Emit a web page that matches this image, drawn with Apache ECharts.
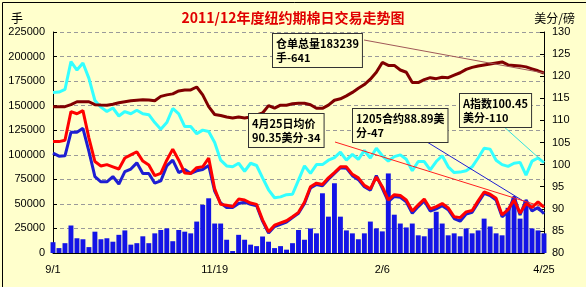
<!DOCTYPE html>
<html><head><meta charset="utf-8">
<script src="https://cdn.jsdelivr.net/npm/echarts@6/dist/echarts.min.js"></script>
<style>html,body{margin:0;padding:0;background:#fff}#c{width:586px;height:287px}</style>
</head><body><div id="c"></div>
<script>
// ---- data ----
const xTickLabels = ['9/1', '11/19', '2/6', '4/25'];
const xTickIndex = [0, 27, 55, 82];

// 仓单总量 (手) – left axis
const stock = [149000,149000,149000,151000,154000,154000,154000,151000,150700,150500,151500,153000,154000,155000,155500,156000,155800,
155000,159500,161000,162000,165000,166000,166000,169000,161000,149000,141000,140000,138500,137500,138500,137500,
138500,140500,142500,150000,147500,150500,150500,152000,152500,152500,151000,147300,147300,150500,155500,157000,
160000,163500,167700,171500,177000,184000,194000,191000,191000,186300,184000,173500,173500,176500,178500,177500,179000,
178500,181000,183500,187000,189000,190400,191500,192500,193500,194500,191500,191000,190500,189500,187500,185500,183239];

// A指数 (美分/磅) – right axis
const aIndex = [116.3,116.4,117,123.3,121.4,123,119.5,114.5,113,112,112.8,111,112,111.5,112.3,111.5,111.3,
109.5,108,109.5,112.7,111.5,108.6,108.6,107,107.8,107.5,105,101,99.7,99.5,100.3,98.5,
100.3,99.8,97,94.3,92.5,92.7,93.2,93.3,96.5,99.7,98,100,100,101,101.6,102.8,
101,102.3,101.2,103.2,101.5,103.7,102,100.8,101.8,102.2,101.2,98.6,100.7,100.7,98.8,100.7,102,
99.5,98.2,98.3,98.6,99.5,101.5,103.7,103.5,101,100,99.6,100.3,100.5,97.6,100.8,101.5,100.45];

// 均价 (美分/磅) – right axis
const avgPrice = [105.2,105.2,105.5,112,111.5,112.2,106,100.7,99.7,100,99.5,99,101.5,102.2,102.9,100.8,99.9,
97.5,98,101,103.5,101,98.1,98,99.3,99.5,101.5,94.5,91,90.8,90.5,92.2,92,
91.3,91,87.5,84.8,86.3,86.8,87.3,88.2,89.2,91.5,95,95.8,95.5,97,98.2,99.5,
99.5,97.8,97,95.3,94.5,97.2,95,92,93.2,93,92,89.5,90.9,92.2,90,90.5,91.2,
90.2,88.2,88,89.3,89.6,91.8,93.8,93.3,92.4,88.6,89.8,92,89,91.2,90.3,91.6,90.35];

// 1205合约 (美分/磅) – right axis
const c1205 = [102.6,101.9,102,107.3,107.3,108.2,103,97.3,96.1,96.1,97.3,95.6,98.4,99,100.4,98,98,
95.8,96.3,99.7,101,98.2,98.9,98,98.6,98.9,99.8,94,91.3,90.3,90.3,91.2,91.5,
91,90.7,87.2,84.5,86,86.5,87,88,89,91.2,94.7,95.5,95.2,96.7,98,99.3,
99.2,97.5,96.6,95,94.2,97.5,94.6,91.6,92.8,92.6,91.6,89,90.5,91.8,89.5,90,90.7,
89.8,87.8,87.2,88.8,89.2,91.4,93.5,93,92,88.2,89.3,92.8,88.6,92,89.5,90.3,88.89];

// 成交量 (手) – left axis bars
const volume = [11000,5000,10000,28000,15000,14000,6000,21700,14000,15000,11500,18500,23000,8500,10000,17000,10000,
20000,23400,25000,12000,23400,21700,20000,32000,49000,55700,30000,30000,13500,2000,18500,13500,
8500,7000,16800,11500,5000,7000,3400,10000,23400,13500,25000,20000,60800,37000,71000,37000,
23000,20000,14000,20000,32000,25000,22000,81000,39000,30000,26000,30000,18000,17000,25000,42000,30000,
18000,20000,17000,25000,20000,23000,35000,27000,20000,18000,46000,57000,35000,52000,25000,23000,20000];

const leftTicks = {min: 0, max: 225000, interval: 25000};
const rightTicks = {min: 80, max: 130, interval: 5};

// ---- chart ----
const N = volume.length;
const last = N - 1;
const categories = volume.map((_, i) => {
  const k = xTickIndex.indexOf(i);
  return k >= 0 ? xTickLabels[k] : String(i);
});
const BG = '#FFFFCC';
const labelFont = {fontFamily: 'Liberation Sans', fontSize: 11, color: '#000'};
const boxStyle = {
  fontFamily: 'Noto Sans CJK SC', fontSize: 11, fontWeight: 'bold', fill: '#000',
  backgroundColor: BG, borderColor: '#333', borderWidth: 1, padding: [3, 3, 2, 3], lineHeight: 14,
  rich: {
    k: {fontFamily: 'Noto Sans CJK SC', fontSize: 11, fontWeight: 'bold', color: '#000', lineHeight: 14},
    n: {fontFamily: 'Noto Sans CJK SC', fontSize: 11, fontWeight: 'bold', color: '#1a1a8c', lineHeight: 14}
  }
};
function leader(color, from, series) {
  return {
    silent: true, symbol: ['none', 'none'], label: {show: false},
    lineStyle: {color: color, width: 1, type: 'solid'},
    emphasis: {disabled: true},
    data: [[{x: from[0], y: from[1]}, {coord: [last, series[last]]}]]
  };
}

const chart = echarts.init(document.getElementById('c'), null, {renderer: 'canvas'});
chart.setOption({
  animation: false,
  backgroundColor: BG,
  title: [
    {text: '2011/12年度纽约期棉日交易走势图', left: 'center', top: 6,
     textStyle: {color: '#E00000', fontSize: 14, fontWeight: 'bold', fontFamily: 'Noto Sans CJK SC'}},
    {text: '手', left: 6, top: 7, textStyle: {color: '#000', fontSize: 12, fontWeight: 'normal', fontFamily: 'Noto Sans CJK SC'}},
    {text: '美分/磅', right: 6, top: 7, textStyle: {color: '#000', fontSize: 12, fontWeight: 'normal', fontFamily: 'Noto Sans CJK SC'}}
  ],
  grid: {left: 53, right: 42, top: 32, bottom: 34},
  xAxis: {
    type: 'category', data: categories, boundaryGap: false,
    axisLine: {lineStyle: {color: '#000', width: 1}},
    axisTick: {show: false},
    axisLabel: Object.assign({interval: (i) => xTickIndex.includes(i), margin: 11, showMinLabel: true, showMaxLabel: true}, labelFont),
    splitLine: {show: false}
  },
  yAxis: [
    Object.assign({type: 'value', position: 'left',
      axisLine: {show: true, lineStyle: {color: '#000'}},
      axisTick: {show: true, inside: true, length: 4, lineStyle: {color: '#000'}},
      axisLabel: Object.assign({margin: 8, formatter: (v) => String(v)}, labelFont),
      splitLine: {show: true, lineStyle: {color: '#9a9a9a', type: [4, 3], width: 1}}
    }, leftTicks),
    Object.assign({type: 'value', position: 'right',
      axisLine: {show: true, lineStyle: {color: '#000'}},
      axisTick: {show: true, inside: true, length: 4, lineStyle: {color: '#000'}},
      axisLabel: Object.assign({margin: 8, formatter: (v) => String(v)}, labelFont),
      splitLine: {show: false}
    }, rightTicks)
  ],
  series: [
    {name: '成交量', type: 'bar', yAxisIndex: 0, data: volume, barCategoryGap: '18%',
     itemStyle: {color: '#1414E6'}, z: 1},
    {name: 'A指数', type: 'line', yAxisIndex: 1, data: aIndex, showSymbol: false,
     lineStyle: {color: '#33FFFF', width: 3}, itemStyle: {color: '#33FFFF'}, z: 2,
     markLine: leader('#33E0E0', [502, 125], aIndex)},
    {name: '仓单总量', type: 'line', yAxisIndex: 0, data: stock, showSymbol: false,
     lineStyle: {color: '#800000', width: 3}, itemStyle: {color: '#800000'}, z: 3,
     markLine: leader('#A05858', [364, 40], stock)},
    {name: '1205合约', type: 'line', yAxisIndex: 1, data: c1205, showSymbol: false,
     lineStyle: {color: '#1E1ED2', width: 3}, itemStyle: {color: '#1E1ED2'}, z: 4,
     markLine: leader('#1E1ED2', [427, 142], c1205)},
    {name: '均价', type: 'line', yAxisIndex: 1, data: avgPrice, showSymbol: false,
     lineStyle: {color: '#FF0000', width: 3}, itemStyle: {color: '#FF0000'}, z: 5,
     markLine: leader('#FF2020', [335, 142], avgPrice)}
  ],
  graphic: [
    {type: 'rect', left: 0, top: 0, z: 100, silent: true,
     shape: {x: 0, y: 0, width: 585, height: 286},
     style: {fill: 'none', stroke: '#000', lineWidth: 1}, position: [0.5, 0.5]},
    {type: 'text', left: 272, top: 33, z: 100,
     style: Object.assign({text: '{k|仓单总量183239}\n{k|手}{n|-641}'}, boxStyle)},
    {type: 'text', left: 248, top: 113, z: 100,
     style: Object.assign({text: '{k|4月25日均价}\n{k|90.35美分}{n|-34}'}, boxStyle)},
    {type: 'text', left: 352, top: 108, z: 100,
     style: Object.assign({text: '{k|1205合约88.89美}\n{k|分}{n|-47}'}, boxStyle)},
    {type: 'text', left: 459, top: 93, z: 100,
     style: Object.assign({text: '{k|A指数100.45}\n{k|美分}{n|-110}'}, boxStyle)}
  ]
});
</script>
</body></html>
